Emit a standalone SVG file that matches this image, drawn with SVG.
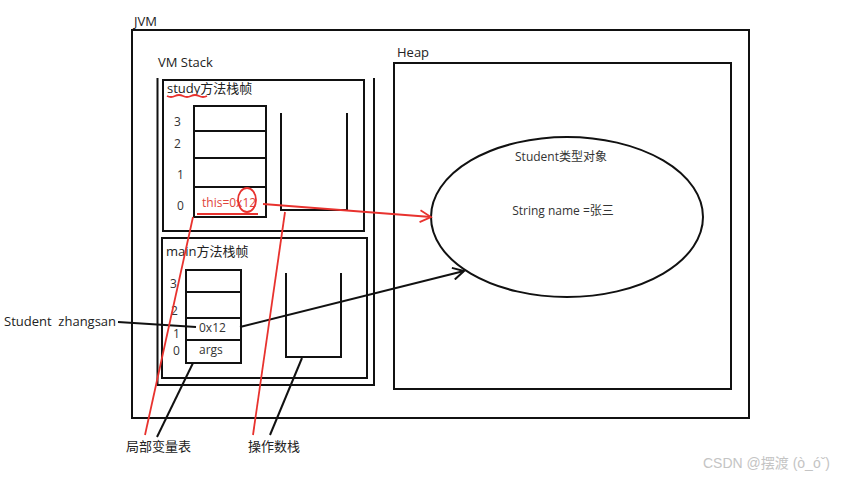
<svg xmlns="http://www.w3.org/2000/svg" width="861" height="477" viewBox="0 0 861 477">
<style>
.box{fill:none;stroke:#111;stroke-width:2}
.ln{fill:none;stroke:#111;stroke-width:2}
.red{fill:none;stroke:#e8322e;stroke-width:1.8}
.t{font-family:"Open Sans","Noto Sans CJK SC",sans-serif;font-size:13px;fill:#222}
.s{font-family:"Open Sans","Noto Sans CJK SC",sans-serif;font-size:12px;fill:#333}
.rt{font-family:"Open Sans","Noto Sans CJK SC",sans-serif;font-size:12px;fill:#e0443a}
</style>
<defs>
<marker id="ab" markerWidth="14" markerHeight="14" refX="12" refY="7" orient="auto" markerUnits="userSpaceOnUse">
<path d="M1,1 L12,7 L1,13" fill="none" stroke="#111" stroke-width="2"/>
</marker>
<marker id="ar" markerWidth="14" markerHeight="14" refX="12" refY="7" orient="auto" markerUnits="userSpaceOnUse">
<path d="M1,1 L12,7 L1,13" fill="none" stroke="#e8322e" stroke-width="1.8"/>
</marker>
</defs>
<rect width="861" height="477" fill="#fff"/>

<g id="jvm">
<rect class="box" x="132" y="30" width="617" height="388"/>
<text class="t" x="134" y="26">JVM</text>
</g>

<g id="heap">
<rect class="box" x="394" y="63" width="337" height="326"/>
<text class="t" x="397" y="57">Heap</text>
</g>

<g id="vmstack">
<path class="ln" d="M157.5,78 V385 H374 V78"/>
<text class="t" x="158" y="67">VM Stack</text>
</g>

<g id="study-frame">
<rect class="box" x="163" y="80" width="201" height="151"/>
<text class="t" x="167" y="93">study方法栈帧</text>
<path class="red" d="M167,96 q4,2 8,0 q4,-2 8,0 q4,2 8,0 q4,-2 8,0 q4,2 8,0"/>
</g>

<g id="study-locals">
<rect class="box" x="194" y="106" width="72" height="111"/>
<path class="ln" d="M194,131 H266 M194,158 H267 M194,187 H267"/>
<text class="s" x="174" y="126">3</text>
<text class="s" x="174" y="148">2</text>
<text class="s" x="177" y="179">1</text>
<text class="s" x="177" y="210">0</text>
<text class="rt" x="202" y="207">this=0x12</text>
<ellipse class="red" cx="247" cy="200" rx="9" ry="12"/>
<line class="red" x1="197" y1="214" x2="258" y2="214"/>
</g>

<g id="study-opstack">
<path class="ln" d="M281,113 V210 H347 V113"/>
</g>

<g id="main-frame">
<rect class="box" x="162" y="238" width="205" height="140"/>
<text class="t" x="166" y="256">main方法栈帧</text>
</g>

<g id="main-locals">
<rect class="box" x="186" y="270" width="55" height="93"/>
<path class="ln" d="M186,292 H241 M186,318 H241 M186,340 H241"/>
<text class="s" x="170" y="288">3</text>
<text class="s" x="171" y="315">2</text>
<text class="s" x="173" y="338">1</text>
<text class="s" x="173" y="355">0</text>
<text class="s" x="199" y="332">0x12</text>
<text class="s" x="199" y="354">args</text>
</g>

<g id="main-opstack">
<path class="ln" d="M286,273 V357 H341 V273"/>
</g>

<g id="student-object">
<ellipse class="box" cx="567" cy="217" rx="136" ry="80"/>
<text class="s" x="561" y="161" text-anchor="middle">Student类型对象</text>
<text class="s" x="563" y="215" text-anchor="middle">String name =张三</text>
</g>

<g id="student-zhangsan">
<text class="t" x="4" y="326" xml:space="preserve">Student  zhangsan</text>
</g>

<g id="label-locals">
<text class="t" x="126" y="451">局部变量表</text>
</g>

<g id="label-opstack">
<text class="t" x="248" y="451">操作数栈</text>
</g>

<g id="connectors">
<line class="red" x1="263" y1="204" x2="431" y2="217" marker-end="url(#ar)"/>
<line class="ln" x1="240" y1="327" x2="464" y2="271" marker-end="url(#ab)"/>
<line class="ln" x1="118" y1="322" x2="196" y2="327"/>
<line class="red" x1="193" y1="217" x2="145" y2="435"/>
<line class="ln" x1="193" y1="363" x2="157" y2="437"/>
<line class="red" x1="285" y1="212" x2="253" y2="435"/>
<line class="ln" x1="302" y1="358" x2="270" y2="435"/>
</g>

<g id="watermark">
<text x="703" y="468" font-family="'Liberation Sans','Noto Sans CJK SC',sans-serif" font-size="14" fill="#c4c4c4">CSDN @摆渡 (ò_óˇ)</text>
</g>
</svg>
